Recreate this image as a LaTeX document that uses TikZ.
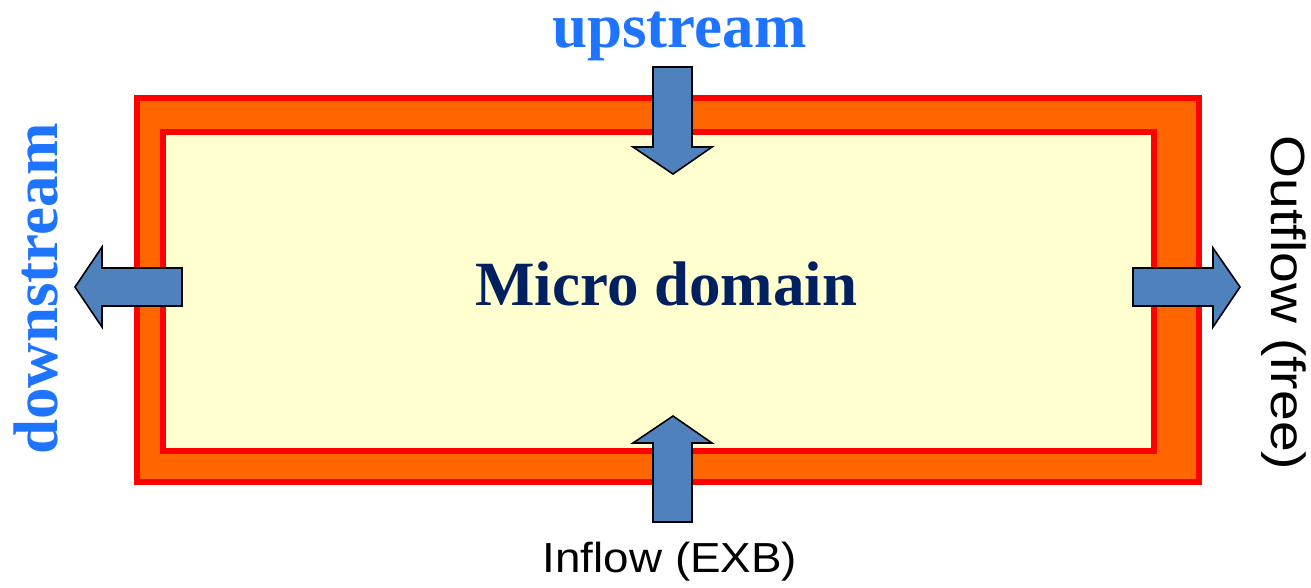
\documentclass[tikz,border=0pt]{standalone}
\usepackage{fontspec}
\usepackage{graphicx}
\setmainfont{Liberation Serif}
\newfontfamily\arialfont{Liberation Sans}
\definecolor{outerfill}{HTML}{FF6600}
\definecolor{frame}{HTML}{FF0000}
\definecolor{innerfill}{HTML}{FFFFD0}
\definecolor{arrowblue}{HTML}{4F81BD}
\definecolor{labelblue}{HTML}{1E74FF}
\definecolor{navy}{HTML}{002060}
\tikzset{
  box/.style={draw=frame, line width=6pt},
  blockarrow/.style={fill=arrowblue, draw=black, line width=1.6pt, line join=miter},
  bigserif/.style={inner sep=0pt, font=\fontsize{63}{63}\selectfont\bfseries},
  sanslabel/.style={inner sep=0pt, font=\arialfont\fontsize{42}{42}\selectfont},
  sideflow/.style={inner sep=0pt, font=\arialfont\fontsize{48}{48}\selectfont},
}
\begin{document}
\begin{tikzpicture}[x=1pt,y=-1pt]
\useasboundingbox (0,0) rectangle (1311,587);
% frames
\path[box, fill=outerfill] (137,98) rectangle (1199,482);
\path[box, fill=innerfill] (163,132) rectangle (1154,451);
% block arrows
\path[blockarrow] (653,67) -- (692,67) -- (692,147) -- (712,147) -- (673,174) -- (633,147) -- (653,147) -- cycle;
\path[blockarrow] (653,522) -- (692,522) -- (692,443) -- (712,443) -- (673,416) -- (633,443) -- (653,443) -- cycle;
\path[blockarrow] (182,268) -- (182,306) -- (102,306) -- (102,327) -- (75,287) -- (102,247) -- (102,268) -- cycle;
\path[blockarrow] (1133,268) -- (1213,268) -- (1213,248) -- (1240,287) -- (1213,327) -- (1213,306) -- (1133,306) -- cycle;
% labels
\node[bigserif, text=labelblue, anchor=base] (up) at (679.5,47) {upstream};
\node[bigserif, text=labelblue, anchor=base, rotate=90] (down) at (57,289) {downstream};
\node[bigserif, text=navy, anchor=base] (micro) at (666.5,305) {Micro domain};
\node[sanslabel, anchor=base] (in) at (670,572) {\scalebox{1.09}[1]{Inflow (EXB)}};
\node[sideflow, anchor=base, rotate=-90] (out) at (1271,303) {\scalebox{1.15}[1]{Outflow (free)}};
\end{tikzpicture}
\end{document}
